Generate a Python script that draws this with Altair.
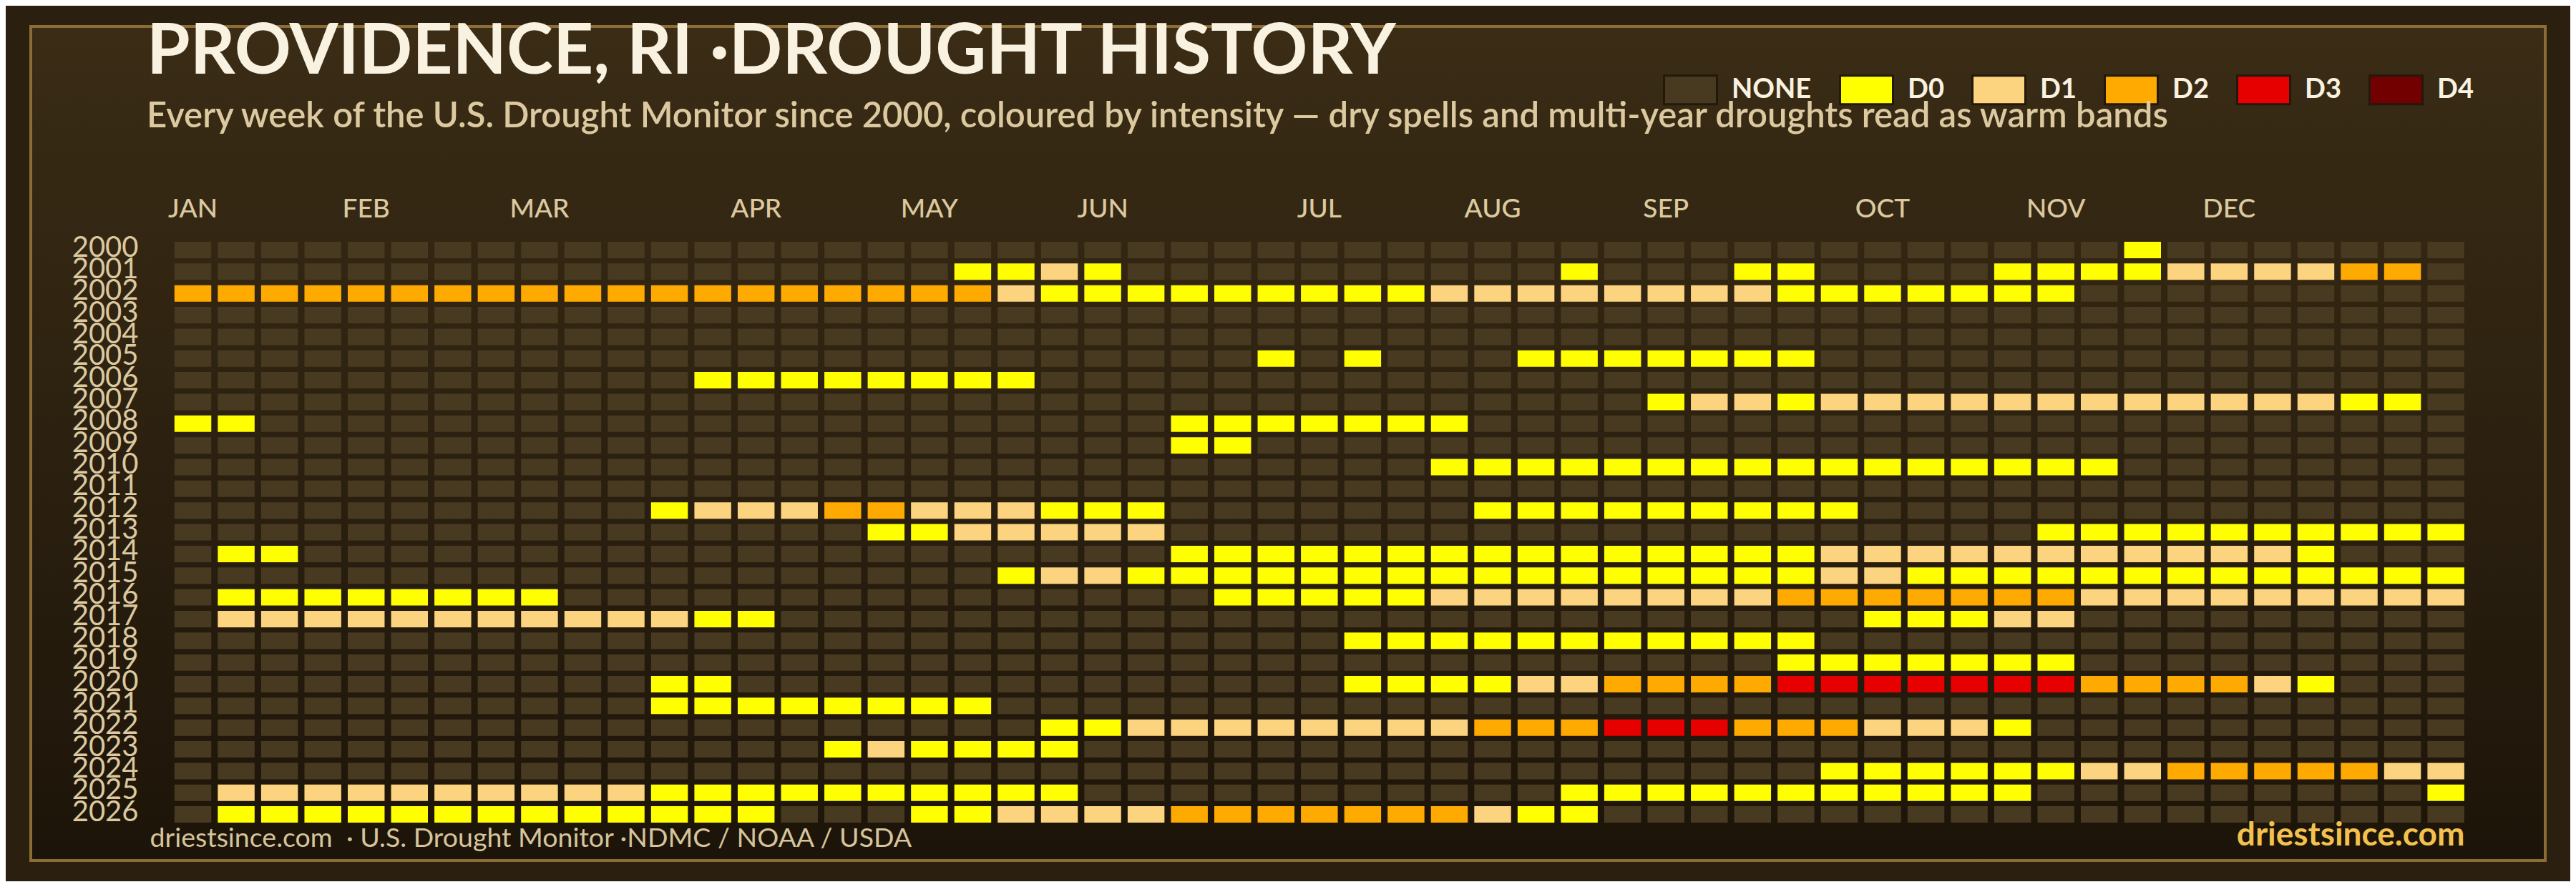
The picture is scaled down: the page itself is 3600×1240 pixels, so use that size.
import altair as alt
import pandas as pd

# ---------------- data ----------------
YEARS = list(range(2000, 2027))
WEEKS = list(range(1, 54))
LEVELS = ["NONE", "D0", "D1", "D2", "D3", "D4"]
LEVEL_COLORS = ["#483a20", "#ffff00", "#fcd37f", "#ffaa00", "#e60000", "#730000"]
CODE = {".": "NONE", "0": "D0", "1": "D1", "2": "D2", "3": "D3", "4": "D4"}

# one string per year, one character per week (weeks 1..53)
ROWS = [
    ".......... .......... .......... .......... .....0.... ...",  # 2000
    ".......... ........00 10........ ..0...00.. ..00001111 22.",  # 2001
    "2222222222 2222222221 0000000001 1111111000 0000...... ...",  # 2002
    ".......... .......... .......... .......... .......... ...",  # 2003
    ".......... .......... .......... .......... .......... ...",  # 2004
    ".......... .......... .....0.0.. .0000000.. .......... ...",  # 2005
    ".......... ..00000000 .......... .......... .......... ...",  # 2006
    ".......... .......... .......... ....011011 1111111111 00.",  # 2007
    "00........ .......... ...0000000 .......... .......... ...",  # 2008
    ".......... .......... ...00..... .......... .......... ...",  # 2009
    ".......... .......... .........0 0000000000 00000..... ...",  # 2010
    ".......... .......... .......... .......... .......... ...",  # 2011
    ".......... .011122111 000....... 000000000. .......... ...",  # 2012
    ".......... ......0011 111....... .......... ...0000000 000",  # 2013
    ".00....... .......... ...0000000 0000000011 1111111110 ...",  # 2014
    ".......... .........0 1100000000 0000000011 0000000000 000",  # 2015
    ".00000000. .......... ....000001 1111111222 2222111111 111",  # 2016
    ".111111111 1100...... .......... .........0 0011...... ...",  # 2017
    ".......... .......... .......000 00000000.. .......... ...",  # 2018
    ".......... .......... .......... .......000 0000...... ...",  # 2019
    ".......... .00....... .......000 0112222333 3333222210 ...",  # 2020
    ".......... .00000000. .......... .......... .......... ...",  # 2021
    ".......... .......... 0011111111 2223332221 110....... ...",  # 2022
    ".......... .....01000 0......... .......... .......... ...",  # 2023
    ".......... .......... .......... ........00 0000112222 211",  # 2024
    ".111111111 1000000000 0......... ..00000000 000....... ..0",  # 2025
    ".000000000 0000...001 1112222222 100....... .......... ...",  # 2026
]

MONTH_WEEKS = [1, 5, 9, 14, 18, 22, 27, 31, 35, 40, 44, 48]
MONTH_NAMES = ["JAN", "FEB", "MAR", "APR", "MAY", "JUN",
               "JUL", "AUG", "SEP", "OCT", "NOV", "DEC"]

TITLE = "PROVIDENCE, RI \u00b7DROUGHT HISTORY"
SUBTITLE = ("Every week of the U.S. Drought Monitor since 2000, coloured by intensity "
            "\u2014 dry spells and multi-year droughts read as warm bands")
FOOTER_LEFT = "driestsince.com \u00a0\u00b7 U.S. Drought Monitor \u00b7NDMC / NOAA / USDA"
FOOTER_RIGHT = "driestsince.com"

records = []
for year, row in zip(YEARS, ROWS):
    cells = "".join(row.split())
    assert len(cells) == 53, (year, len(cells))
    for week, ch in zip(WEEKS, cells):
        records.append({"year": year, "week": week, "level": CODE[ch]})
df = pd.DataFrame(records)

# ---------------- layout (page pixels) ----------------
FONT = "Lato"
CREAM = "#faf2e0"
TAN = "#dcc9a0"
GOLD = "#f2c14e"
FRAME = "#8c6d35"

SVG_W, SVG_H = 3584, 1224
FL, FT, FR, FB = 43, 37, 3557, 1203          # frame (= plot area) in page px
W, H = FR - FL, FB - FT
PAD_L, PAD_T = FL - 8, FT - 8
PAD_R, PAD_B = SVG_W - PAD_L - W, SVG_H - PAD_T - H
FRAME_W = 4

X_STEP, X_PI, X_FIRST = 60.55, 0.15, 243.8
Y_STEP, Y_PI, Y_FIRST = 30.35, 0.242, 338.0
nx, ny = len(WEEKS), len(YEARS)
x0 = X_FIRST - FL - X_STEP * X_PI / 2
y0 = Y_FIRST - FT - Y_STEP * Y_PI / 2
X_RANGE = [x0, x0 + X_STEP * nx]
Y_RANGE = [y0, y0 + Y_STEP * ny]

month_expr = " : ".join(
    f"datum.value == {w} ? '{m}'" for w, m in zip(MONTH_WEEKS, MONTH_NAMES)
) + " : ''"

MONTH_Y = 292
YEAR_RIGHT = 193

one = pd.DataFrame({"k": [0]})

# gradient panel inside the frame
inset = FRAME_W / 2
bg = alt.Chart(one).mark_rect(
    fill=alt.LinearGradient(
        gradient="linear", x1=0, x2=0, y1=0, y2=1,
        stops=[alt.GradientStop(color="#3a2c15", offset=0),
               alt.GradientStop(color="#2c2110", offset=0.5),
               alt.GradientStop(color="#1d1409", offset=1)],
    ),
).encode(
    x=alt.value(inset), x2=alt.value(W - inset),
    y=alt.value(inset), y2=alt.value(H - inset),
)

# gold frame around the panel
frame = alt.Chart(one).mark_rect(
    fillOpacity=0, stroke=FRAME, strokeWidth=FRAME_W, strokeOpacity=1,
).encode(
    x=alt.value(0), x2=alt.value(W), y=alt.value(0), y2=alt.value(H),
)

cells = alt.Chart(df).mark_rect().encode(
    x=alt.X(
        "week:O", sort=WEEKS,
        scale=alt.Scale(paddingInner=X_PI, paddingOuter=X_PI / 2, range=X_RANGE),
        axis=alt.Axis(
            orient="top", values=MONTH_WEEKS, labelExpr=month_expr,
            offset=FT - MONTH_Y, labelPadding=0, ticks=False, tickSize=0,
            domain=False, grid=False, labelAngle=0, labelBaseline="middle",
            labelFont=FONT, labelFontSize=37, labelFontWeight=500,
            labelColor=TAN, zindex=2,
            title=FOOTER_RIGHT, titleX=3444 - FL, titleY=1181 - MONTH_Y,
            titleAlign="right", titleBaseline="alphabetic", titleAngle=0,
            titleFont=FONT, titleFontSize=46, titleFontWeight="bold",
            titleColor=GOLD,
        ),
    ),
    y=alt.Y(
        "year:O", sort=YEARS,
        scale=alt.Scale(paddingInner=Y_PI, paddingOuter=Y_PI / 2, range=Y_RANGE),
        axis=alt.Axis(
            orient="left", offset=FL - YEAR_RIGHT, labelPadding=0,
            ticks=False, tickSize=0, domain=False, grid=False,
            labelAlign="right", labelBaseline="middle", labelOffset=-3,
            labelOverlap=False, labelFont=FONT, labelFontSize=40,
            labelColor=TAN, zindex=2,
            title=FOOTER_LEFT, titleX=209 - YEAR_RIGHT, titleY=1183 - FT,
            titleAlign="left", titleBaseline="alphabetic", titleAngle=0,
            titleFont=FONT, titleFontSize=37.5, titleFontWeight="normal",
            titleColor="#d6c49c",
        ),
    ),
    color=alt.Color(
        "level:N",
        scale=alt.Scale(domain=LEVELS, range=LEVEL_COLORS),
        legend=alt.Legend(
            title=None, orient="none", legendX=2324 - FL, legendY=87 - FT,
            direction="horizontal", columns=6, padding=0, columnPadding=33,
            symbolType="M-1,-0.54H1V0.54H-1Z", symbolSize=74 * 74,
            symbolStrokeColor="#22190b", symbolStrokeWidth=3, symbolOpacity=1,
            labelFont=FONT, labelFontSize=38, labelFontWeight="bold",
            labelColor=CREAM, labelOffset=19, zindex=2,
        ),
    ),
)

chart = alt.layer(bg, frame, cells).properties(
    width=W, height=H,
    autosize=alt.AutoSizeParams(type="none"),
    padding={"left": PAD_L, "top": PAD_T, "right": PAD_R, "bottom": PAD_B},
    background="#2b200f",
    title=alt.TitleParams(
        TITLE, subtitle=SUBTITLE, anchor="start", frame="group", orient="top",
        dx=162, offset=-154, subtitlePadding=15, zindex=2,
        font=FONT, fontSize=98, fontWeight="bold", color=CREAM,
        subtitleFont=FONT, subtitleFontSize=49, subtitleFontWeight=600,
        subtitleColor=TAN,
    ),
).configure_view(stroke=FRAME, strokeWidth=FRAME_W)

chart.save("out.html", embed_options={"renderer": "svg", "actions": False})
